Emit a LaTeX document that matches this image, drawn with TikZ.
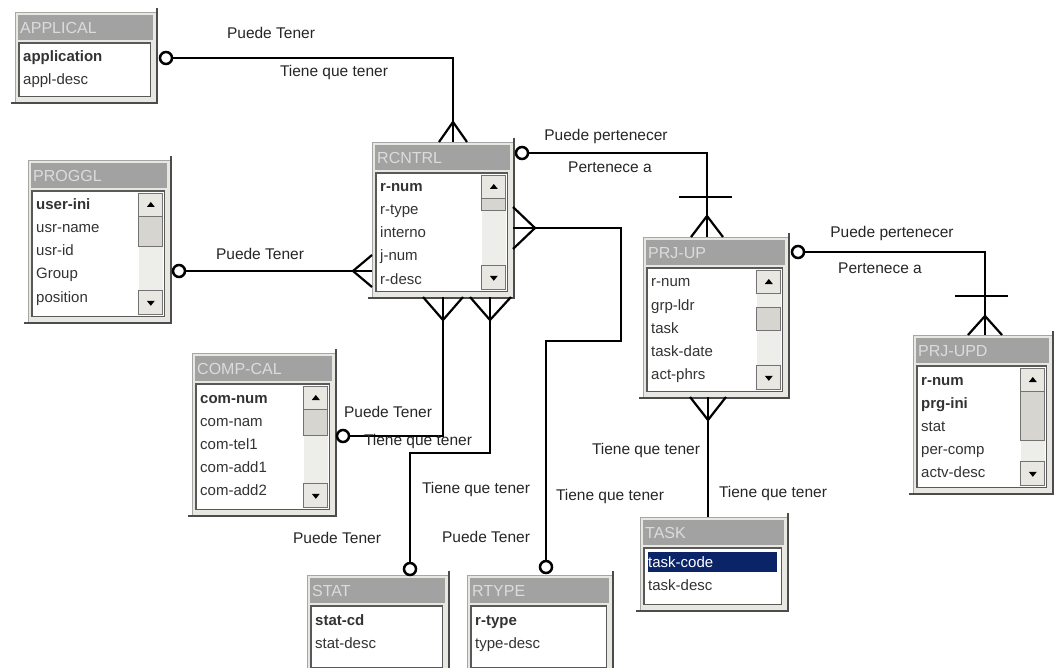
\documentclass[tikz,border=0pt]{standalone}
\usepackage{fontspec}
\setmainfont{Liberation Sans}
\usetikzlibrary{calc}
\definecolor{panel}{HTML}{E8E7E2}
\definecolor{headgray}{HTML}{A2A2A2}
\definecolor{titlegray}{HTML}{DCDCDC}
\definecolor{track}{HTML}{EDEDE9}
\definecolor{thumbgray}{HTML}{D6D5CF}
\definecolor{selnavy}{HTML}{0B2468}
\tikzset{
  tframe/.style={draw=black!35, line width=0.8pt, fill=panel, inner sep=0pt, rectangle},
  tshadow/.style={draw=black!70, line width=2pt},
  thead/.style={fill=headgray},
  ttitle/.style={text=titlegray, font=\fontsize{16}{18}\selectfont, inner sep=0pt},
  tbody/.style={fill=white, draw=black!65, line width=1.3pt},
  tfield/.style={font=\fontsize{15}{17}\selectfont, text=black!80, inner sep=0pt, anchor=base west},
  sbtn/.style={fill=panel, draw=black!55, line width=0.8pt},
  sthumb/.style={fill=thumbgray, draw=black!55, line width=0.8pt},
  rel/.style={line width=2.2pt, black},
  cardo/.style={circle, draw=black, line width=2.5pt, fill=white, minimum size=12pt, inner sep=0pt},
  lbl/.style={font=\fontsize{15.5}{17}\selectfont, text=black!85, inner sep=0pt}
}
% table frame: name, x, y, w, h, title
\newcommand\ertable[6]{%
  \node[tframe, minimum width=#4pt, minimum height=#5pt, anchor=north west] (#1) at (#2,#3) {};
  \draw[tshadow] ([yshift=4pt]#1.north east) -- (#1.south east) -- ([xshift=-4pt]#1.south west);
  \fill[thead] ([xshift=3pt,yshift=-3pt]#1.north west) rectangle ([xshift=-4pt,yshift=-28pt]#1.north east);
  \node[ttitle, anchor=west] (#1-t) at ([xshift=5pt,yshift=-16pt]#1.north west) {#6};
  \draw[tbody] ([xshift=4pt,yshift=-31pt]#1.north west) rectangle ([xshift=-6pt,yshift=6pt]#1.south east);
}
% fields: name, list
\newcommand\erfields[2]{%
  \foreach \f [count=\i] in {#2} {%
    \node[tfield] (#1-\i) at ([xshift=8pt,yshift={-50pt-23pt*(\i-1)}]#1.north west) {\f};
  }%
}
% scrollbar: name, thumb top offset, thumb bottom offset
\newcommand\erscroll[3]{%
  \fill[track] ([xshift=-32pt,yshift=-33pt]#1.north east) rectangle ([xshift=-8pt,yshift=8pt]#1.south east);
  \draw[sbtn] ([xshift=-32pt,yshift=-33pt]#1.north east) rectangle ([xshift=-8pt,yshift=-56pt]#1.north east);
  \fill[black] ([xshift=-24pt,yshift=-47pt]#1.north east) -- ([xshift=-16pt,yshift=-47pt]#1.north east) -- ([xshift=-20pt,yshift=-42pt]#1.north east) -- cycle;
  \draw[sthumb] ([xshift=-32pt,yshift=-#2pt]#1.north east) rectangle ([xshift=-8pt,yshift=-#3pt]#1.north east);
  \draw[sbtn] ([xshift=-32pt,yshift=32pt]#1.south east) rectangle ([xshift=-8pt,yshift=8pt]#1.south east);
  \fill[black] ([xshift=-24pt,yshift=22pt]#1.south east) -- ([xshift=-16pt,yshift=22pt]#1.south east) -- ([xshift=-20pt,yshift=17pt]#1.south east) -- cycle;
}
\begin{document}
\begin{tikzpicture}[x=1pt,y=-1pt]
\useasboundingbox (0,0) rectangle (1054,668);
\clip (0,0) rectangle (1054,668);
\fill[white] (0,0) rectangle (1054,668);

% ---------- tables ----------
\ertable{APPLICAL}{15}{12}{141}{90}{APPLICAL}
\erfields{APPLICAL}{\textbf{application},appl-desc}

\ertable{RCNTRL}{372}{142}{141}{155}{RCNTRL}
\erscroll{RCNTRL}{56}{68}
\erfields{RCNTRL}{\textbf{r-num},r-type,interno,j-num,r-desc}

\ertable{PROGGL}{28}{160}{142}{162}{PROGGL}
\erscroll{PROGGL}{56}{86}
\erfields{PROGGL}{\textbf{user-ini},usr-name,usr-id,Group,position}

\ertable{COMPCAL}{192}{353}{143}{162}{COMP-CAL}
\erscroll{COMPCAL}{56}{82}
\erfields{COMPCAL}{\textbf{com-num},com-nam,com-tel1,com-add1,com-add2}

\ertable{PRJUP}{643}{237}{145}{160}{PRJ-UP}
\erscroll{PRJUP}{70}{93}
\erfields{PRJUP}{r-num,grp-ldr,task,task-date,act-phrs}

\ertable{PRJUPD}{913}{335}{139}{158}{PRJ-UPD}
\erscroll{PRJUPD}{56}{105}
\erfields{PRJUPD}{\textbf{r-num},\textbf{prg-ini},stat,per-comp,actv-desc}

\ertable{TASK}{640}{517}{147}{93}{TASK}
\fill[selnavy] ([xshift=8pt,yshift=-35pt]TASK.north west) rectangle ([xshift=-11pt,yshift=-55pt]TASK.north east);
\erfields{TASK}{\textcolor{white}{task-code},task-desc}

\ertable{STAT}{307}{575}{141}{98}{STAT}
\erfields{STAT}{\textbf{stat-cd},stat-desc}

\ertable{RTYPE}{467}{575}{145}{98}{RTYPE}
\erfields{RTYPE}{\textbf{r-type},type-desc}

% ---------- connectors ----------
% APPLICAL - RCNTRL
\node[cardo] (o1) at (166,58) {};
\coordinate (f1) at (453,142);
\draw[rel] (o1) -| (f1);
\draw[rel] ($(f1)+(-14,0)$) -- ($(f1)+(0,-20)$) -- ($(f1)+(14,0)$);

% RCNTRL - PRJ-UP
\node[cardo] (o2) at (522,153) {};
\coordinate (f2) at (707,237);
\draw[rel] (o2) -| (f2);
\draw[rel] ($(f2)+(-28,-40)$) -- ($(f2)+(25,-40)$);
\draw[rel] ($(f2)+(-16,0)$) -- ($(f2)+(0,-21)$) -- ($(f2)+(16,0)$);

% PROGGL - RCNTRL
\node[cardo] (o3) at (179,271) {};
\coordinate (f3) at (372,271);
\draw[rel] (o3) -- (f3);
\draw[rel] ($(f3)+(0,-16)$) -- ($(f3)+(-19,0)$) -- ($(f3)+(0,16)$);

% COMP-CAL - RCNTRL
\node[cardo] (o4) at (343,436) {};
\coordinate (f4) at (443,297);
\draw[rel] (o4) -| (f4);
\draw[rel] ($(f4)+(-20,0)$) -- ($(f4)+(0,23)$) -- ($(f4)+(20,0)$);

% STAT - RCNTRL
\node[cardo] (o5) at (410,569) {};
\coordinate (k5) at (410,453);
\coordinate (f5) at (490,297);
\draw[rel] (o5) -- (k5) -| (f5);
\draw[rel] ($(f5)+(-20,0)$) -- ($(f5)+(0,23)$) -- ($(f5)+(21,0)$);

% RTYPE - RCNTRL
\node[cardo] (o6) at (546,567) {};
\coordinate (k6a) at (546,341);
\coordinate (k6b) at (621,228);
\coordinate (f6) at (513,228);
\draw[rel] (o6) -- (k6a) -| (k6b) -- (f6);
\draw[rel] ($(f6)+(0,-21)$) -- ($(f6)+(22,0)$) -- ($(f6)+(0,21)$);

% PRJ-UP - PRJ-UPD
\node[cardo] (o7) at (798,252) {};
\coordinate (f7) at (985,335);
\draw[rel] (o7) -| (f7);
\draw[rel] ($(f7)+(-30,-39)$) -- ($(f7)+(23,-39)$);
\draw[rel] ($(f7)+(-17,0)$) -- ($(f7)+(0,-19)$) -- ($(f7)+(17,0)$);

% PRJ-UP - TASK
\coordinate (f8a) at (708,397);
\coordinate (f8b) at (708,517);
\draw[rel] (f8a) -- (f8b);
\draw[rel] ($(f8a)+(-18,0)$) -- ($(f8a)+(0,23)$) -- ($(f8a)+(18,0)$);

% ---------- labels ----------
\node[lbl] (l1) at (271,33) {Puede Tener};
\node[lbl] (l2) at (334,72) {Tiene que tener};
\node[lbl] (l3) at (606,136) {Puede pertenecer};
\node[lbl] (l4) at (610,167) {Pertenece a};
\node[lbl] (l5) at (260,254) {Puede Tener};
\node[lbl] (l6) at (388,412) {Puede Tener};
\node[lbl] (l7) at (418,441) {Tiene que tener};
\node[lbl] (l8) at (476,489) {Tiene que tener};
\node[lbl] (l9) at (337,538) {Puede Tener};
\node[lbl] (l10) at (486,537) {Puede Tener};
\node[lbl] (l11) at (610,496) {Tiene que tener};
\node[lbl] (l12) at (646,450) {Tiene que tener};
\node[lbl] (l13) at (773,493) {Tiene que tener};
\node[lbl] (l14) at (892,233) {Puede pertenecer};
\node[lbl] (l15) at (880,268) {Pertenece a};
\end{tikzpicture}
\end{document}
